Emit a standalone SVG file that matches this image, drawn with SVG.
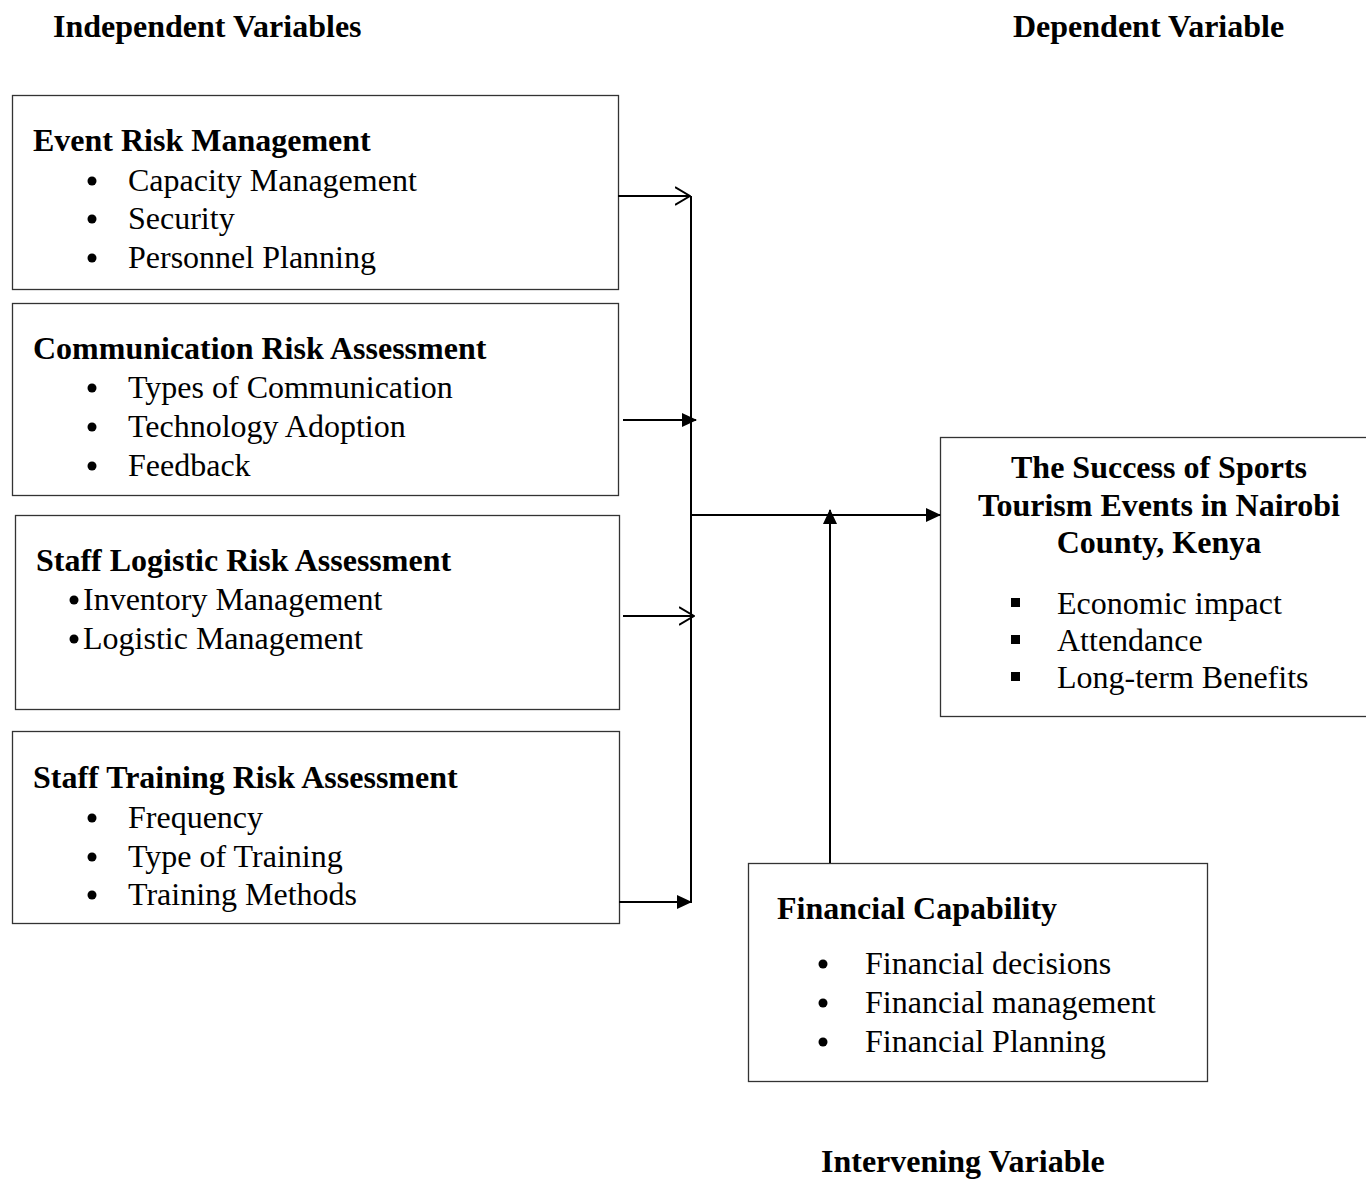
<svg xmlns="http://www.w3.org/2000/svg" width="1366" height="1180" viewBox="0 0 1366 1180">
<style>
text{font-family:"Liberation Serif","Times New Roman",serif;font-size:32px;fill:#000}
.b{font-weight:bold}
.box{fill:#fff;stroke:#333;stroke-width:1.3}
.ln{stroke:#000;stroke-width:2;fill:none}
</style>
<defs>
<marker id="fa" markerWidth="15" markerHeight="14" refX="14" refY="7" orient="auto" markerUnits="userSpaceOnUse"><path d="M0,0 L15,7 L0,14 z" fill="#000"/></marker>
<marker id="oa" markerWidth="16" markerHeight="20" refX="15" refY="10" orient="auto" markerUnits="userSpaceOnUse"><path d="M0,1 L15,10 L0,19" fill="none" stroke="#000" stroke-width="2"/></marker>
</defs>
<rect width="1366" height="1180" fill="#fff"/>
<text class="b" x="53" y="37">Independent Variables</text>
<text class="b" x="1013" y="37">Dependent Variable</text>
<text class="b" x="821" y="1172">Intervening Variable</text>
<g id="n1">
<rect class="box" x="12.5" y="95.5" width="606" height="194"/>
<text class="b" x="33" y="151">Event Risk Management</text>
<circle cx="92" cy="181" r="4.5"/><text x="128" y="191">Capacity Management</text>
<circle cx="92" cy="219" r="4.5"/><text x="128" y="229">Security</text>
<circle cx="92" cy="258" r="4.5"/><text x="128" y="268">Personnel Planning</text>
</g>
<g id="n2">
<rect class="box" x="12.5" y="303.5" width="606" height="192"/>
<text class="b" x="33" y="359">Communication Risk Assessment</text>
<circle cx="92" cy="388" r="4.5"/><text x="128" y="398">Types of Communication</text>
<circle cx="92" cy="427" r="4.5"/><text x="128" y="437">Technology Adoption</text>
<circle cx="92" cy="466" r="4.5"/><text x="128" y="476">Feedback</text>
</g>
<g id="n3">
<rect class="box" x="15.5" y="515.5" width="604" height="194"/>
<text class="b" x="36" y="571">Staff Logistic Risk Assessment</text>
<circle cx="74" cy="600" r="4.5"/><text x="83" y="610">Inventory Management</text>
<circle cx="74" cy="639" r="4.5"/><text x="83" y="649">Logistic Management</text>
</g>
<g id="n4">
<rect class="box" x="12.5" y="731.5" width="607" height="192"/>
<text class="b" x="33" y="788">Staff Training Risk Assessment</text>
<circle cx="92" cy="818" r="4.5"/><text x="128" y="828">Frequency</text>
<circle cx="92" cy="857" r="4.5"/><text x="128" y="867">Type of Training</text>
<circle cx="92" cy="895" r="4.5"/><text x="128" y="905">Training Methods</text>
</g>
<g id="n5">
<rect class="box" x="940.5" y="437.5" width="430" height="279"/>
<text class="b" x="1159" y="478" text-anchor="middle">The Success of Sports</text>
<text class="b" x="1159" y="516" text-anchor="middle">Tourism Events in Nairobi</text>
<text class="b" x="1159" y="553" text-anchor="middle">County, Kenya</text>
<rect x="1011" y="598" width="9" height="9"/><text x="1057" y="614">Economic impact</text>
<rect x="1011" y="635" width="9" height="9"/><text x="1057" y="651">Attendance</text>
<rect x="1011" y="672" width="9" height="9"/><text x="1057" y="688">Long-term Benefits</text>
</g>
<g id="n6">
<rect class="box" x="748.5" y="863.5" width="459" height="218"/>
<text class="b" x="777" y="919">Financial Capability</text>
<circle cx="823" cy="964" r="4.5"/><text x="865" y="974">Financial decisions</text>
<circle cx="823" cy="1003" r="4.5"/><text x="865" y="1013">Financial management</text>
<circle cx="823" cy="1042" r="4.5"/><text x="865" y="1052">Financial Planning</text>
</g>
<g id="connectors">
<line class="ln" x1="691" y1="196" x2="691" y2="903"/>
<line class="ln" x1="618" y1="196" x2="690" y2="196" marker-end="url(#oa)"/>
<line class="ln" x1="623" y1="420" x2="696" y2="420" marker-end="url(#fa)"/>
<line class="ln" x1="623" y1="616" x2="694" y2="616" marker-end="url(#oa)"/>
<line class="ln" x1="619" y1="902" x2="691" y2="902" marker-end="url(#fa)"/>
<line class="ln" x1="691" y1="515" x2="940" y2="515" marker-end="url(#fa)"/>
<line class="ln" x1="830" y1="863" x2="830" y2="510" marker-end="url(#fa)"/>
</g>
</svg>
